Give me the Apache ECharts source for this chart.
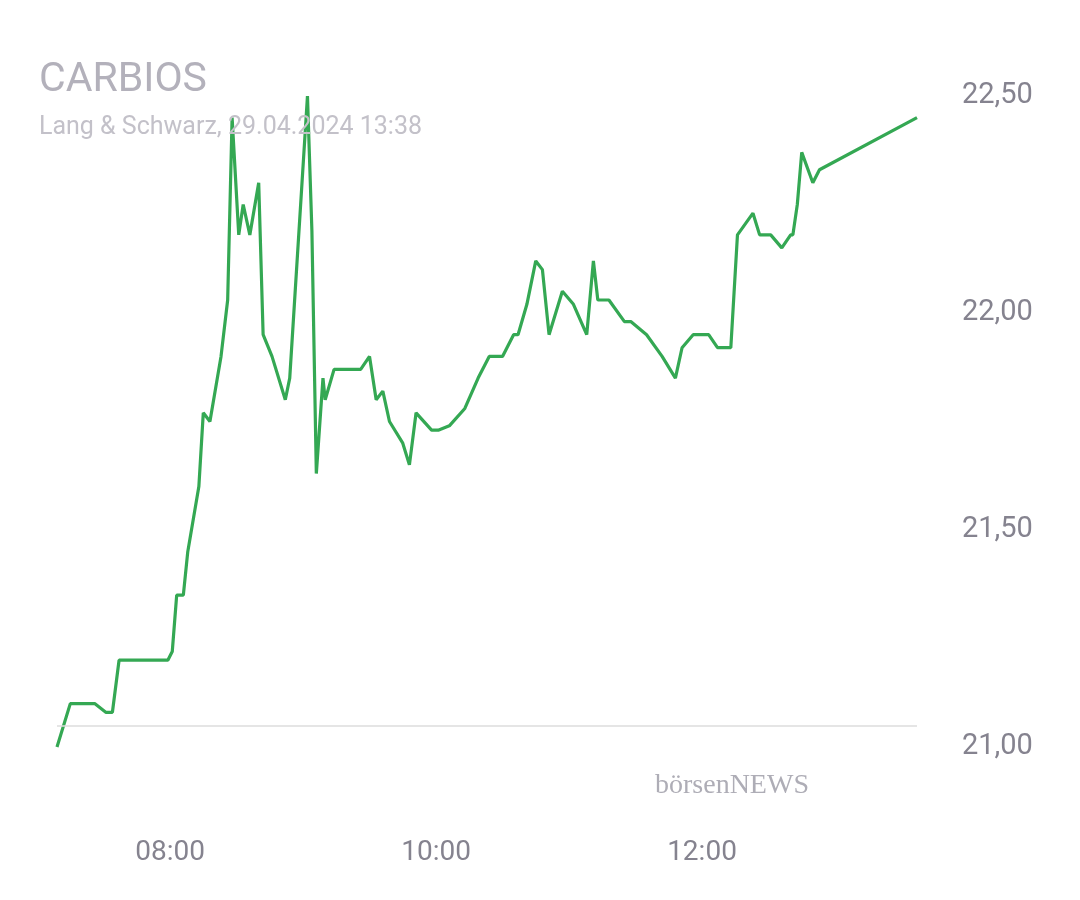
<!DOCTYPE html>
<html><head><meta charset="utf-8">
<script src="https://cdn.jsdelivr.net/npm/echarts@6/dist/echarts.min.js"></script>
<style>html,body{margin:0;padding:0;background:#fff}#c{width:1080px;height:900px}</style>
</head><body><div id="c"></div>
<script>
const times = ["07:09","07:15","07:26","07:31","07:34","07:37","07:59","08:01","08:03","08:06","08:08","08:13","08:15","08:18","08:23","08:26","08:28","08:31","08:33","08:36","08:40","08:42","08:46","08:52","08:54","09:02","09:04","09:06","09:09","09:10","09:14","09:26","09:30","09:33","09:36","09:39","09:45","09:48","09:51","09:58","10:01","10:06","10:13","10:19","10:24","10:30","10:35","10:37","10:41","10:45","10:48","10:51","10:57","11:02","11:08","11:11","11:13","11:18","11:25","11:28","11:35","11:42","11:48","11:51","11:56","12:03","12:07","12:13","12:16","12:23","12:26","12:31","12:36","12:40","12:41","12:43","12:45","12:50","12:53","13:37"];
const prices = [21.00,21.10,21.10,21.08,21.08,21.20,21.20,21.22,21.35,21.35,21.45,21.60,21.77,21.75,21.90,22.03,22.45,22.18,22.25,22.18,22.30,21.95,21.90,21.80,21.85,22.50,22.19,21.63,21.85,21.80,21.87,21.87,21.90,21.80,21.82,21.75,21.70,21.65,21.77,21.73,21.73,21.74,21.78,21.85,21.90,21.90,21.95,21.95,22.02,22.12,22.10,21.95,22.05,22.02,21.95,22.12,22.03,22.03,21.98,21.98,21.95,21.90,21.85,21.92,21.95,21.95,21.92,21.92,22.18,22.23,22.18,22.18,22.15,22.18,22.18,22.25,22.37,22.30,22.33,22.45];
const xTicks = ["08:00","10:00","12:00"];
const yTicks = [21.0,21.5,22.0,22.5];
const prevClose = 21.05;
const toMin = s => { const [h,m] = s.split(":").map(Number); return h*60+m; };
const fmtT = v => String(Math.floor(v/60)).padStart(2,"0")+":"+String(v%60).padStart(2,"0");
const data = times.map((t,i)=>[toMin(t),prices[i]]);
const chart = echarts.init(document.getElementById('c'));
chart.setOption({
  animation:false,
  title:{text:'CARBIOS',subtext:'Lang & Schwarz, 29.04.2024 13:38',left:34,top:55,itemGap:14,
    textStyle:{color:'#b3b1bb',fontSize:41,fontWeight:'normal',fontFamily:'Roboto'},
    subtextStyle:{color:'#c3c1c9',fontSize:25,fontFamily:'Roboto'}},
  grid:{left:57,right:163,top:96,bottom:153},
  xAxis:{type:'value',min:toMin(times[0]),max:toMin(times[times.length-1]),
    axisLine:{show:false},splitLine:{show:false},axisTick:{show:false},
    axisLabel:{customValues:xTicks.map(toMin),formatter:v=>fmtT(v),color:'#85838f',fontSize:28,margin:92,fontFamily:'Roboto'}},
  yAxis:{type:'value',position:'right',min:21,max:22.5,
    axisLine:{show:false},splitLine:{show:false},axisTick:{show:false},
    axisLabel:{customValues:yTicks,formatter:v=>v.toFixed(2).replace('.',','),color:'#85838f',fontSize:29,margin:45,fontFamily:'Roboto'}},
  graphic:[{type:'text',left:655,top:772,style:{text:'börsenNEWS',fill:'#aeadb6',font:'28px "Liberation Serif", serif'}}],
  series:[{type:'line',data:data,showSymbol:false,lineStyle:{color:'#34a853',width:3.2},
    markLine:{silent:true,symbol:'none',label:{show:false},lineStyle:{color:'#dddddd',width:1.5,type:'solid'},data:[{yAxis:prevClose}]}}]
});
</script></body></html>
